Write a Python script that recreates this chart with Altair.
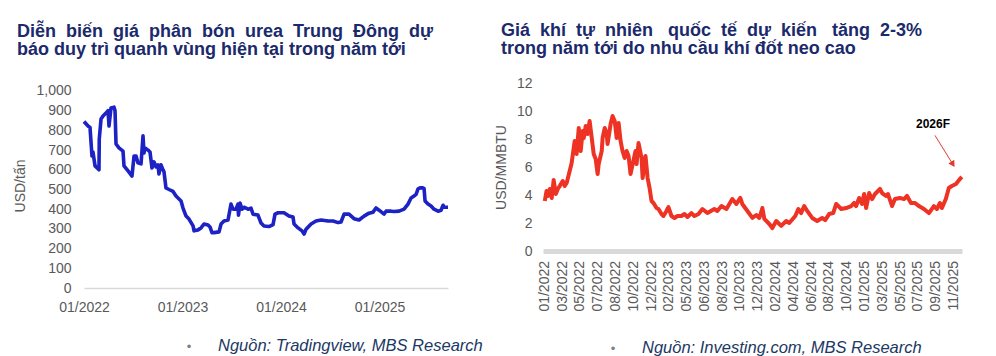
import altair as alt
import pandas as pd

FONT = "Liberation Sans"
NAVY = "#1b2a6b"
NOTE = "#203864"
GRAY = "#595959"
BLUE = "#1c22c4"
RED = "#ee3224"

# ---------------- Left: urea price (USD/tấn) ----------------
urea_t = [
    2022.000, 2022.041, 2022.061, 2022.081, 2022.091, 2022.112, 2022.142, 2022.152, 2022.155, 2022.173,
    2022.193, 2022.223, 2022.244, 2022.254, 2022.274, 2022.305, 2022.315, 2022.325, 2022.355, 2022.396,
    2022.406, 2022.447, 2022.487, 2022.508, 2022.528, 2022.548, 2022.579, 2022.599, 2022.609, 2022.619,
    2022.650, 2022.670, 2022.690, 2022.711, 2022.731, 2022.751, 2022.761, 2022.782, 2022.802, 2022.812,
    2022.832, 2022.863, 2022.904, 2022.934, 2022.985, 2023.005, 2023.036, 2023.066, 2023.107, 2023.117,
    2023.157, 2023.188, 2023.218, 2023.259, 2023.279, 2023.299, 2023.320, 2023.371, 2023.391, 2023.421,
    2023.462, 2023.492, 2023.513, 2023.543, 2023.563, 2023.568, 2023.584, 2023.604, 2023.624, 2023.665,
    2023.695, 2023.716, 2023.766, 2023.797, 2023.827, 2023.878, 2023.919, 2023.939, 2023.970, 2024.030,
    2024.081, 2024.122, 2024.132, 2024.173, 2024.213, 2024.234, 2024.254, 2024.305, 2024.355, 2024.406,
    2024.477, 2024.528, 2024.579, 2024.609, 2024.640, 2024.690, 2024.741, 2024.792, 2024.843, 2024.893,
    2024.934, 2024.964, 2024.995, 2025.046, 2025.066, 2025.117, 2025.147, 2025.198, 2025.249, 2025.289,
    2025.320, 2025.350, 2025.371, 2025.391, 2025.411, 2025.442, 2025.452, 2025.462, 2025.492, 2025.523,
    2025.553, 2025.594, 2025.624, 2025.645, 2025.655, 2025.695,
]
urea_v = [
    845, 822, 815, 670, 690, 620, 605, 600, 756, 858,
    873, 888, 900, 822, 914, 918, 900, 731, 711, 695,
    620, 594, 568, 670, 670, 635, 630, 772, 685, 711,
    700, 690, 609, 640, 615, 625, 579, 625, 600, 590,
    508, 500, 490, 467, 442, 406, 365, 350, 315, 290,
    295, 305, 325, 320, 310, 281, 281, 285, 325, 340,
    345, 426, 400, 400, 426, 370, 431, 400, 410, 400,
    405, 375, 370, 330, 315, 312, 322, 375, 382, 382,
    365, 360, 325, 305, 290, 274, 298, 325, 340, 345,
    340, 340, 332, 335, 375, 375, 352, 345, 365, 380,
    385, 406, 395, 375, 390, 390, 388, 390, 400, 426,
    457, 467, 475, 503, 508, 508, 505, 442, 426, 416,
    400, 390, 395, 420, 410, 410,
]
urea_xticks = [2022, 2023, 2024, 2025]
urea_yticks = [0, 100, 200, 300, 400, 500, 600, 700, 800, 900, 1000]

left_title = [
    "Diễn\u00a0 biến\u00a0 giá\u00a0 phân\u00a0 bón\u00a0 urea\u00a0 Trung\u00a0 Đông\u00a0 dự",
    "báo duy trì quanh vùng hiện tại trong năm tới",
]
left_source = "Nguồn: Tradingview, MBS Research"

# ---------------- Right: natural gas (USD/MMBTU) ----------------
gas_u = [
    0.00, 0.10, 0.17, 0.28, 0.39, 0.50, 0.62, 0.73, 0.84, 1.01,
    1.12, 1.23, 1.40, 1.51, 1.68, 1.79, 1.91, 2.02, 2.13, 2.19,
    2.30, 2.41, 2.52, 2.64, 2.75, 2.86, 2.97, 3.03, 3.20, 3.25,
    3.37, 3.48, 3.53, 3.70, 3.81, 3.93, 4.04, 4.15, 4.26, 4.37,
    4.49, 4.60, 4.71, 4.82, 4.94, 5.10, 5.16, 5.27, 5.44, 5.50,
    5.66, 5.78, 5.89, 6.00, 6.11, 6.28, 6.39, 6.56, 6.67, 6.84,
    6.95, 7.12, 7.29, 7.46, 7.68, 7.85, 8.02, 8.24, 8.41, 8.64,
    8.86, 9.14, 9.53, 9.70, 9.93, 10.21, 10.54, 10.77, 10.99, 11.10,
    11.39, 11.67, 11.89, 12.06, 12.23, 12.34, 12.62, 12.79, 13.01, 13.29,
    13.57, 13.74, 14.08, 14.25, 14.41, 14.58, 14.75, 15.03, 15.31, 15.59,
    15.76, 15.98, 16.21, 16.38, 16.66, 16.94, 17.22, 17.39, 17.50, 17.67,
    17.83, 17.95, 18.06, 18.23, 18.40, 18.56, 18.84, 18.96, 19.18, 19.29,
    19.52, 19.68, 19.96, 20.19, 20.36, 20.58, 20.81, 21.03, 21.31, 21.59,
    21.87, 22.04, 22.21, 22.32, 22.54, 22.71, 22.88, 23.11, 23.33, 23.44,
]
gas_v = [
    3.57, 4.29, 3.93, 4.43, 3.79, 5.07, 4.07, 4.43, 4.64, 5.00,
    4.64, 4.86, 5.71, 6.29, 7.86, 6.93, 8.79, 7.14, 8.57, 8.07,
    8.93, 8.36, 9.29, 8.07, 6.93, 6.57, 5.50, 6.21, 7.14, 8.07,
    8.79, 8.36, 7.64, 9.07, 9.64, 9.29, 8.07, 9.14, 7.86, 7.14,
    6.64, 7.14, 6.79, 5.50, 6.21, 7.14, 6.21, 7.71, 6.64, 5.21,
    6.79, 5.21, 4.50, 3.57, 3.43, 3.07, 3.00, 2.64, 2.50, 2.86,
    3.14, 2.50, 2.36, 2.50, 2.50, 2.64, 2.43, 2.71, 2.50, 2.64,
    3.00, 2.71, 3.00, 2.86, 3.21, 3.00, 3.71, 3.36, 3.79, 3.36,
    2.86, 2.36, 2.57, 2.36, 3.07, 2.29, 1.93, 1.64, 2.14, 1.79,
    2.14, 2.00, 2.50, 3.00, 2.71, 3.21, 2.86, 2.36, 2.14, 2.36,
    2.21, 2.64, 2.71, 3.36, 3.00, 3.07, 3.21, 3.43, 3.21, 3.79,
    3.36, 4.07, 3.07, 4.14, 3.71, 4.07, 4.43, 4.14, 3.93, 4.07,
    3.21, 3.71, 3.79, 3.71, 3.93, 3.43, 3.43, 3.21, 3.00, 2.71,
    3.21, 3.00, 3.43, 3.07, 3.71, 4.50, 4.64, 4.79, 5.14, 5.29,
]
gas_labels = [
    "01/2022", "03/2022", "05/2022", "07/2022", "08/2022", "10/2022", "12/2022", "02/2023",
    "05/2023", "06/2023", "08/2023", "10/2023", "12/2023", "02/2024", "04/2024", "06/2024",
    "08/2024", "10/2024", "01/2025", "03/2025", "05/2025", "07/2025", "09/2025", "11/2025",
]
gas_label_pos = list(range(len(gas_labels)))
gas_yticks = [0, 2, 4, 6, 8, 10, 12]

ann_u = [21.82]
ann_v = [9.07]
ann_text = ["2026F"]
arrow_u0 = [21.93]
arrow_v0 = [8.26]
arrow_u1 = [22.94]
arrow_v1 = [6.19]

right_title = [
    "Giá\u00a0 khí\u00a0 tự\u00a0 nhiên\u00a0\u00a0 quốc\u00a0 tế\u00a0 dự\u00a0 kiến\u00a0\u00a0 tăng\u00a0 2-3%",
    "trong năm tới do nhu cầu khí đốt neo cao",
]
right_source = "Nguồn: Investing.com, MBS Research"

# ---------------- Build ----------------
urea = pd.DataFrame({"t": urea_t, "v": urea_v})
gas = pd.DataFrame({"u": gas_u, "v": gas_v})
gas_lab = pd.DataFrame({"u": gas_label_pos, "s": gas_labels})


def note_layers(bx, tx, ty, text):
    bullet = alt.Chart(pd.DataFrame({"s": ["•"]})).mark_text(
        align="center", baseline="alphabetic", font=FONT, fontSize=13, color="#7f7f7f"
    ).encode(x=alt.value(bx), y=alt.value(ty), text="s:N")
    note = alt.Chart(pd.DataFrame({"s": [text]})).mark_text(
        align="left", baseline="alphabetic", font=FONT, fontSize=16.5,
        fontStyle="italic", color=NOTE
    ).encode(x=alt.value(tx), y=alt.value(ty), text="s:N")
    return bullet, note


LH = 205  # left plot height (top aligned with right plot)
left_line = alt.Chart(urea).mark_line(
    color=BLUE, strokeWidth=3.6, strokeJoin="round"
).encode(
    x=alt.X("t:Q", scale=alt.Scale(domain=[2022.0, 2025.695], nice=False, zero=False),
            axis=alt.Axis(values=urea_xticks, labelExpr="'01/' + datum.value", title=None,
                          grid=False, ticks=False, domainColor="#d9d9d9", domainWidth=1.5,
                          labelFontSize=14, labelColor=GRAY, labelFont=FONT,
                          labelPadding=12, labelFlush=False)),
    y=alt.Y("v:Q", scale=alt.Scale(domain=[0, 1040.6], nice=False),
            axis=alt.Axis(values=urea_yticks, format=",.0f", title="USD/tấn", grid=False,
                          ticks=False, domain=False, labelFontSize=14, labelColor=GRAY,
                          labelFont=FONT, labelPadding=13, titleFontSize=14,
                          titleColor=GRAY, titleFont=FONT, titleFontWeight="normal",
                          titlePadding=8)),
)
lb, ln = note_layers(105, 134, 268, left_source)
left = alt.layer(left_line, lb, ln).properties(
    width=364, height=LH,
    title=alt.TitleParams(text=left_title, anchor="start", frame="group", dx=-67, offset=24,
                          fontSize=18, fontWeight="bold", font=FONT, color=NAVY, lineHeight=18),
)

xs = alt.Scale(domain=[-0.1, 23.45], nice=False, zero=False)
ys = alt.Scale(domain=[0, 12], nice=False)
gx = alt.X("u:Q", scale=xs,
           axis=alt.Axis(labels=False, title=None, grid=False, ticks=False,
                         domainColor="#d9d9d9", domainWidth=5))
gy = alt.Y("v:Q", scale=ys,
           axis=alt.Axis(values=gas_yticks, title="USD/MMBTU", grid=False, ticks=False,
                         domain=False, labelFontSize=14, labelColor=GRAY, labelFont=FONT,
                         labelPadding=11, titleFontSize=14, titleColor=GRAY, titleFont=FONT,
                         titleFontWeight="normal", titlePadding=8))

gas_line = alt.Chart(gas).mark_line(
    color=RED, strokeWidth=4, strokeJoin="round"
).encode(x=gx, y=gy)

xlabels = alt.Chart(gas_lab).mark_text(
    angle=270, align="right", baseline="middle", font=FONT, fontSize=14, color=GRAY
).encode(x=gx, y=alt.value(178), text="s:N")

ann = alt.Chart(pd.DataFrame({"u": ann_u, "v": ann_v, "s": ann_text})).mark_text(
    font=FONT, fontSize=12, fontWeight="bold", color="#000000", align="center", baseline="middle"
).encode(x=gx, y=gy, text="s:N")

arrow = alt.Chart(pd.DataFrame({"u": arrow_u0, "v": arrow_v0, "u2": arrow_u1, "v2": arrow_v1})).mark_rule(
    color="#e23a2e", strokeWidth=1
).encode(x=gx, y=gy, x2="u2:Q", y2="v2:Q")

head = alt.Chart(pd.DataFrame({"u": arrow_u1, "v": arrow_v1})).mark_point(
    shape="triangle-up", filled=True, size=50, angle=148, color="#e23a2e", opacity=1
).encode(x=gx, y=gy)

rb, rn = note_layers(70, 99, 270, right_source)
right = alt.layer(gas_line, xlabels, arrow, head, ann, rb, rn).properties(
    width=419, height=168,
    title=alt.TitleParams(text=right_title, anchor="start", frame="group", dx=-42, offset=18,
                          fontSize=18, fontWeight="bold", font=FONT, color=NAVY, lineHeight=18),
)

chart = alt.hconcat(left, right, spacing=11).properties(
    padding={"left": 5, "top": 14, "right": 0, "bottom": 0}
).configure_view(stroke=None)

chart.save("out.html", embed_options={"renderer": "svg", "actions": False})
